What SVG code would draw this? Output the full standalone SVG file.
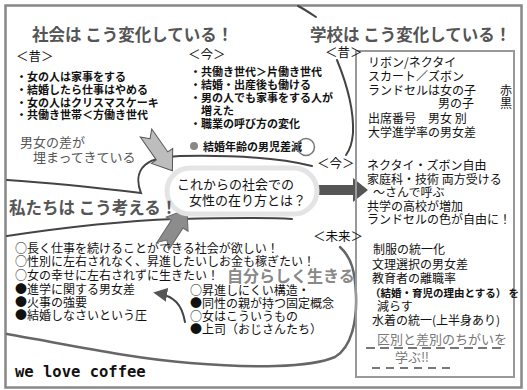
<svg xmlns="http://www.w3.org/2000/svg" width="527" height="390" viewBox="0 0 527 390">
<defs>
<style>
text{font-family:'Noto Sans CJK JP','Noto Sans CJK SC',sans-serif;fill:#111}
.ttl{font-size:16.5px;font-weight:bold;fill:#555}
.lbl{font-size:12.5px;fill:#111}
.li{font-size:11px;font-weight:bold}
.bx{font-size:12px}
.bl{font-size:12px}
.note{font-size:13px;fill:#555}
.ln{fill:none;stroke:#444;stroke-width:2;stroke-linecap:round}
.lnb{fill:none;stroke:#666;stroke-width:2.5;stroke-linecap:round}
</style>
<marker id="ah" viewBox="0 0 10 10" refX="8" refY="5" markerWidth="7" markerHeight="7" orient="auto">
<path d="M0,0 L10,5 L0,10 z" fill="#555"/>
</marker>
</defs>
<rect x="0" y="0" width="527" height="390" fill="#fff"/>
<rect x="5.5" y="5.5" width="516" height="382" fill="none" stroke="#888" stroke-width="2.5"/>

<g id="connectors">
<path class="ln" d="M7,180 C55,183 100,188 141,193 C137,183 137,172 145,165 C153,158 165,157 180,156 C230,155 280,158 312,166"/>
<path class="ln" d="M7,236 C60,228 120,221 175,219 C220,218 260,217 292,219"/>
<path class="lnb" d="M7,334 C70,345 130,358 190,363 C250,368 310,368 335,357 C352,347 357,320 356,295 C355,272 352,258 340,247"/>
<path class="ln" d="M298,6 C304,9 310,13 316,17"/>
<path class="ln" d="M337,60 C346,82 354,110 353,133 C352,145 349,151 346,155"/>
<path class="ln" stroke-width="1.5" d="M185,322 C182,305 175,296 156,293" marker-end="url(#ah)"/>
<polygon transform="translate(146,133) rotate(55)" points="0,-7 28,-7 28,-13 46,0 28,13 28,7 0,7 7,0" fill="#bdbdbd" stroke="#555" stroke-width="1"/>
<polygon transform="translate(163,246) rotate(-57)" points="0,-7 26,-7 26,-13 44,0 26,13 26,7 0,7 7,0" fill="#8c8c8c" stroke="#666" stroke-width="1"/>
<polygon points="313,185 353,185 353,178 368,190 353,202 353,195 313,195" fill="#555"/>
</g>

<g id="title-society"><text class="ttl" x="32" y="41">社会は こう変化している！</text></g>
<g id="title-school"><text class="ttl" x="310" y="41">学校は こう変化している！</text></g>

<g id="society-past">
<text class="lbl" x="16" y="61">＜昔＞</text>
<text class="li" x="16" y="81">・女の人は家事をする</text>
<text class="li" x="16" y="94">・結婚したら仕事はやめる</text>
<text class="li" x="16" y="107">・女の人はクリスマスケーキ</text>
<text class="li" x="16" y="119">・共働き世帯＜方働き世代</text>
</g>

<g id="society-now">
<text class="lbl" x="188" y="59">＜今＞</text>
<text class="li" x="190" y="76">・共働き世代＞片働き世代</text>
<text class="li" x="190" y="89">・結婚・出産後も働ける</text>
<text class="li" x="190" y="102">・男の人でも家事をする人が</text>
<text class="li" x="201" y="115">増えた</text>
<text class="li" x="190" y="128">・職業の呼び方の変化</text>
<circle cx="194" cy="146" r="4" fill="#888"/>
<text class="li" x="203" y="151">結婚年齢の男児差減</text>
<circle cx="306" cy="147" r="8.5" fill="none" stroke="#777" stroke-width="1.5"/>
</g>

<g id="gap-note">
<text class="note" x="20" y="147">男女の差が</text>
<text class="note" x="33" y="162">埋まってきている</text>
</g>

<g id="center-question">
<rect x="167" y="168" width="150" height="46" rx="23" fill="#fff" stroke="#e4e4e4" stroke-width="5"/>
<text style="font-size:13px" x="177" y="189">これからの社会での</text>
<text style="font-size:13px" x="189" y="205">女性の在り方とは？</text>
</g>

<g id="we-think"><text class="ttl" x="9" y="214">私たちは こう考える！</text></g>

<g id="wishes">
<text class="bl" x="15" y="253">○長く仕事を続けることができる社会が欲しい！</text>
<text class="bl" x="15" y="266">○性別に左右されなく、昇進したいしお金も稼ぎたい！</text>
<text class="bl" x="15" y="280">○女の幸せに左右されずに生きたい！</text>
<text style="font-size:16px;font-weight:bold;fill:#888" x="227" y="282">自分らしく生きる</text>
<text class="bl" x="15" y="294">●進学に関する男女差</text>
<text class="bl" x="15" y="307">●火事の強要</text>
<text class="bl" x="15" y="320">●結婚しなさいという圧</text>
<text class="bl" x="190" y="295">○昇進しにくい構造・</text>
<text class="bl" x="190" y="308">●同性の親が持つ固定概念</text>
<text class="bl" x="190" y="321">○女はこういうもの</text>
<text class="bl" x="190" y="334">●上司（おじさんたち）</text>
</g>

<g id="school-box">
<rect x="356" y="51" width="158" height="326" fill="none" stroke="#999" stroke-width="2"/>
<text class="lbl" x="325" y="57">＜昔＞</text>
<text class="bx" x="368" y="67">リボン/ネクタイ</text>
<text class="bx" x="368" y="81">スカート／ズボン</text>
<text class="bx" x="368" y="95">ランドセルは女の子</text>
<text class="bx" x="500" y="95">赤</text>
<text class="bx" x="438" y="108">男の子</text>
<text class="bx" x="500" y="108">黒</text>
<text class="bx" x="368" y="123">出席番号　男女 別</text>
<text class="bx" x="368" y="137">大学進学率の男女差</text>
<text class="lbl" x="317" y="168">＜今＞</text>
<text class="bx" x="367" y="170">ネクタイ・ズボン自由</text>
<text class="bx" x="367" y="184">家庭科・技術 両方受ける</text>
<text class="bx" x="373" y="197">～さんで呼ぶ</text>
<text class="bx" x="367" y="211">共学の高校が増加</text>
<text class="bx" x="367" y="224">ランドセルの色が自由に！</text>
<text class="lbl" x="313" y="241">＜未来＞</text>
<text class="bx" x="373" y="254">制服の統一化</text>
<text class="bx" x="372" y="269">文理選択の男女差</text>
<text class="bx" x="372" y="283">教育者の離職率</text>
<text style="font-size:10.5px;font-weight:bold" x="370" y="297">（結婚・育児の理由とする） を</text>
<text class="bx" x="377" y="311">減らす</text>
<text class="bx" x="372" y="325">水着の統一(上半身あり)</text>
<text style="font-size:13px;fill:#777" x="377" y="344">区別と差別のちがいを</text>
<text style="font-size:13px;fill:#777" x="395" y="362">学ぶ‼</text>
<line x1="366" y1="348" x2="506" y2="348" stroke="#777" stroke-width="2" stroke-dasharray="9 5"/>
<line x1="372" y1="368" x2="452" y2="368" stroke="#777" stroke-width="2" stroke-dasharray="8 6"/>
</g>

<g id="footer"><text style="font-family:'DejaVu Sans Mono','Liberation Mono',monospace;font-size:15.5px;font-weight:bold;fill:#111" x="15" y="377">we love coffee</text></g>
</svg>
